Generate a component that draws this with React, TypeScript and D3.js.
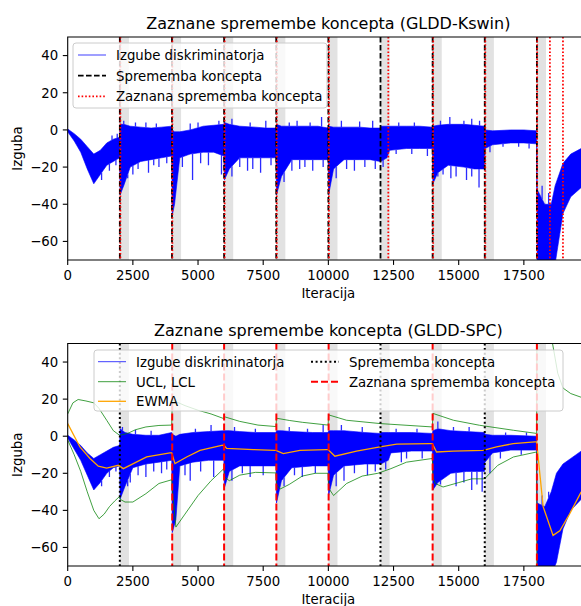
import React from 'react';
import * as d3 from 'd3';

// iteration ticks / loss ticks
const iterTicks = [0, 2500, 5000, 7500, 10000, 12500, 15000, 17500];
const lossTicks = [-60, -40, -20, 0, 20, 40];

// concept changes and detections
const conceptChanges = [2000, 4000, 6000, 8000, 10000, 12000, 14000, 16000, 18000];
const bandLength = 350;
const detectedKswin = [2020, 4015, 6020, 8020, 10020, 12300, 14020, 16020, 18010, 18500, 19000];
const detectedSpc = [4010, 6000, 8005, 10010, 14000, 18000];

// loss envelope (GLDD-Kswin run)
const lossIterKswin = [0, 250, 500, 750, 1000, 1250, 1500, 1750, 1990,
  2010, 2150, 2400, 2800, 3200, 3600, 3990,
  4010, 4100, 4300, 4700, 5200, 5600, 5990,
  6010, 6200, 6600, 7200, 7600, 7990,
  8010, 8200, 8600, 9200, 9600, 9990,
  10010, 10200, 10600, 11200, 11600, 11990,
  12010, 12250, 12350, 13000, 13500, 13990,
  14010, 14200, 14600, 15200, 15600, 15990,
  16010, 16300, 17000, 17500, 17990,
  18010, 18300, 18550, 18700, 19000, 19300, 19700, 20000];
const lossHighKswin = [0.5, -2, -5, -9, -13, -11, -7, -5, -4,
  3, 3, 2, 1.5, 1, 1.5, 2,
  0, -1, -1, 0, 2, 2.5, 3,
  4, 3, 2, 1.5, 1, 1,
  3, 2, 2, 2, 2, 1,
  2, 1.5, 1.5, 1.5, 1, 1,
  2, 2, 2, 2, 2, 1.5,
  2, 2.5, 3, 3, 2.5, 2,
  0, -0.5, 0, 0, -0.5,
  -32, -40, -40, -30, -18, -13, -10, -8];
const lossLowKswin = [-1, -6, -12, -21, -29, -24, -19, -17, -15,
  -35, -30, -20, -17, -16, -15, -14,
  -46, -40, -15, -13, -12, -12, -14,
  -27, -21, -15, -15, -15, -15,
  -35, -25, -16, -16, -16, -16,
  -35, -21, -16, -16, -16, -17,
  -17, -15, -11, -10, -10, -10,
  -29, -23, -19, -20, -21, -21,
  -10, -8, -7, -7, -7.5,
  -75, -75, -75, -72, -45, -36, -31, -29];
const spikesKswin = [[2500, -24], [3100, -23], [3500, -20], [4790, -27], [5900, -24], [6900, -22],
  [7400, -23], [8900, -21], [9400, -22], [11000, -22], [13800, -14], [14700, -26], [15300, -27],
  [15780, -31], [2300, -26], [2700, -21], [3300, -19], [3800, -18], [4400, -20], [5100, -18],
  [5400, -19], [6300, -25], [6600, -20], [7100, -21], [7800, -19], [8300, -28], [8600, -22],
  [9100, -20], [9800, -20], [10300, -26], [10700, -21], [11400, -20], [11800, -21], [12100, -20],
  [12600, -13], [13200, -13], [14200, -25], [14400, -24], [14900, -25], [15500, -25], [16200, -12],
  [16700, -9], [17300, -9], [17700, -10], [1300, -27], [1600, -22], [1850, -19],
  [2150, 5], [4700, 3.5], [7600, 5], [8500, 4], [9740, 7], [10500, 5], [14660, 7], [15200, 5],
  [2600, 4], [3000, 4], [3400, 3.5], [5000, 4], [5800, 5], [6300, 6], [7000, 4], [8800, 5],
  [9300, 4], [11200, 4.5], [11700, 5], [12700, 4], [13300, 4], [14300, 5], [15500, 6], [15800, 5],
  [1900, -2], [1700, -3], [18200, -30], [18450, -34]];

// loss envelope (GLDD-SPC run)
const lossIterSpc = [0, 250, 500, 750, 1000, 1250, 1500, 1750, 1990,
  2010, 2200, 2500, 3000, 3500, 3990,
  4010, 4150, 4300, 4800, 5400, 5990,
  6010, 6200, 6600, 7200, 7990,
  8010, 8200, 8600, 9400, 9990,
  10010, 10200, 10600, 11400, 11990,
  12010, 12300, 12400, 13200, 13990,
  14010, 14200, 14700, 15300, 15990,
  16010, 16300, 17000, 17990,
  18010, 18300, 18550, 18750, 19000, 19300, 19700, 20000];
const lossHighSpc = [0.5, -2, -5, -9, -12, -10, -8, -6, -5,
  4, 2, 1, 0.5, 0.5, 2,
  1, 0, 1, 2, 2.5, 3,
  3, 3, 2.5, 2, 2,
  3, 3, 2.5, 2, 2,
  3, 3, 3, 2, 1.5,
  2, 2, 2, 2, 1.5,
  3, 4, 3, 2.5, 2,
  1, 0.5, 0.5, 0,
  -36, -38, -30, -20, -15, -12, -8, -7];
const lossLowSpc = [-1, -7, -13, -21, -29, -25, -20, -17, -16,
  -34, -27, -17, -15, -14, -13,
  -52, -45, -16, -14, -13, -13,
  -28, -19, -16, -16, -16,
  -36, -24, -17, -16, -16,
  -32, -21, -16, -15, -15,
  -15, -13, -9, -8, -8,
  -29, -25, -20, -19, -19,
  -14, -9, -7.5, -7.5,
  -75, -75, -75, -68, -50, -40, -34, -31];
const spikesSpc = [[2400, -25], [3000, -22], [3600, -20], [4700, -24], [5600, -22], [7000, -22],
  [9000, -22], [10600, -24], [11500, -21], [12800, -14], [14900, -27], [15500, -29], [15900, -30],
  [2300, -27], [2700, -21], [3300, -19], [3800, -18], [4500, -21], [5100, -19], [6300, -24],
  [6700, -20], [7500, -21], [8300, -27], [8700, -21], [9500, -20], [10300, -27], [11000, -20],
  [11800, -19], [12200, -18], [13000, -12], [13600, -12], [14300, -26], [15200, -25], [15700, -26],
  [16200, -20], [16600, -12], [17400, -10], [1300, -27], [1600, -22], [1850, -19],
  [2100, 5], [5500, 6], [9800, 6], [10500, 6], [14200, 8], [2600, 3.5], [3200, 3], [4900, 4],
  [6400, 5], [7200, 4], [8500, 5], [9200, 4], [11300, 5], [12600, 4], [13400, 4], [14800, 5],
  [15400, 5], [16800, 2], [17600, 2], [18200, -32], [18450, -30]];

// control limits and EWMA (GLDD-SPC)
const uclIter = [0, 200, 400, 700, 1000, 1200, 1500, 1750, 1990, 2300, 2600, 3000, 3500, 3990,
  4010, 4500, 5000, 5500, 5990, 6010, 6600, 7300, 7990, 8010, 8500, 9000, 9990,
  10010, 10700, 12000, 13990, 14010, 14800, 15800, 17100, 17990,
  18010, 18300, 18600, 18800, 19000, 19300, 19700];
const uclValue = [12, 18, 19.8, 19, 18, 15, 8.5, 3, 0.5, 1.5, 3.5, 5, 5.8, 6,
  19.5, 16.5, 14, 12, 9.5, 10.5, 8, 6, 5.2, 9.7, 8.5, 7.5, 6,
  11.5, 8.6, 6.8, 5, 12.3, 8.6, 5.9, 3.2, 1.5,
  120, 90, 50, 34, 26, 23, 21];
const lclIter = [0, 250, 500, 750, 1000, 1200, 1400, 1600, 1800, 1990,
  2010, 2200, 2500, 3000, 3500, 3990,
  4010, 4150, 4500, 5000, 5500, 5990,
  6010, 6200, 6600, 7200, 7990,
  8010, 8150, 8500, 9000, 9500, 9990,
  10010, 10200, 10700, 11300, 11900, 12400, 13000, 13990,
  14010, 14100, 14400, 15000, 15500, 15990, 16500, 17100, 17990, 18010];
const lclValue = [-2, -10, -19, -30, -40, -44.5, -42, -38, -35, -32.5,
  -34, -35.5, -35.5, -31, -25.5, -23.5,
  -28, -49, -42, -32, -24, -17.5,
  -22, -24, -21, -19.5, -19.8,
  -26, -28.5, -26, -21.5, -20, -20,
  -28, -32, -25.5, -21.5, -20, -17.5, -14, -12,
  -22, -25.5, -27.4, -25, -23, -23, -15.7, -11.2, -8.5, -150];
const ewmaIter = [0, 470, 855, 1175, 1495, 1940, 2133, 2517, 3030, 3923, 3990, 4115, 4564, 5074,
  5906, 5990, 6098, 7118, 7950, 7990, 8270, 8910, 9930, 9990, 10250, 11080, 11980, 12620,
  13890, 13990, 14150, 14790, 15940, 16450, 17090, 17920, 17990, 18240, 18620, 18880,
  19260, 19700];
const ewmaValue = [6.8, -5.8, -12, -16.2, -17.2, -15.7, -17.5, -14.8, -11.2, -9, -9, -14.8, -11.2, -7.6,
  -4.9, -4.8, -6.6, -7.2, -7.6, -7.6, -9.4, -7.6, -7.2, -7.2, -10.8, -8, -5.8, -4.3,
  -4, -4, -8.5, -8, -7.6, -5.8, -4, -3.1, -3.1, -38, -53.5, -51,
  -41.8, -30];

const FONT = "'DejaVu Sans', sans-serif";
const left = 67.7;
const right = 589;
const x = d3.scaleLinear().domain([0, 19999]).range([left, right]);
const fmt = (v: number) => String(v).replace('-', '\u2212');

const lossArea = (iter: number[], high: number[], low: number[], y: d3.ScaleLinear<number, number>) =>
  d3.area<number>()
    .x((_, i) => x(iter[i]))
    .y0((_, i) => y(low[i]))
    .y1((_, i) => y(high[i]))(iter);

const curve = (iter: number[], vals: number[], y: d3.ScaleLinear<number, number>) =>
  d3.line<number>()
    .x((d) => x(d))
    .y((_, i) => y(vals[i]))(iter);

const Loss = ({ iter, high, low, spikes, y }) => {
  const highAt = d3.scaleLinear().domain(iter).range(high);
  const lowAt = d3.scaleLinear().domain(iter).range(low);
  return (
    <g>
      <path d={lossArea(iter, high, low, y)} fill="#0000ff" stroke="#0000ff" strokeWidth={0.6} />
      {spikes.map(([it, v], i) => (
        <line
          // eslint-disable-next-line react/no-array-index-key
          key={i}
          x1={x(it)}
          x2={x(it)}
          y1={y(v < highAt(it) ? lowAt(it) : highAt(it))}
          y2={y(v)}
          stroke="#2a2aff"
          strokeWidth={1.3}
        />
      ))}
    </g>
  );
};

const Frame = ({ y, top, bottom, title, titleY, labelY }) => (
  <g fontFamily={FONT} fill="#000">
    <text x={(left + right) / 2} y={titleY} fontSize={16} textAnchor="middle">{title}</text>
    <path d={`M${right},${top}H${left}V${bottom}H${right}`} fill="none" stroke="#000" strokeWidth={1.1} />
    {iterTicks.map((t) => (
      <g key={t}>
        <line x1={x(t)} x2={x(t)} y1={bottom} y2={bottom + 4.9} stroke="#000" strokeWidth={1.1} />
        <text x={x(t)} y={bottom + 20.3} fontSize={13.3} textAnchor="middle">{t}</text>
      </g>
    ))}
    {lossTicks.map((t) => (
      <g key={t}>
        <line x1={left - 4.9} x2={left} y1={y(t)} y2={y(t)} stroke="#000" strokeWidth={1.1} />
        <text x={left - 9.5} y={y(t) + 4.8} fontSize={13.3} textAnchor="end">{fmt(t)}</text>
      </g>
    ))}
    <text x={(left + right) / 2} y={labelY} fontSize={13.3} textAnchor="middle">Iteracija</text>
    <text
      transform={`translate(22,${(top + bottom) / 2}) rotate(-90)`}
      fontSize={13.3}
      textAnchor="middle"
    >
      Izguba
    </text>
  </g>
);

const Legend = ({ box, items }) => (
  <g fontFamily={FONT}>
    <rect x={box[0]} y={box[1]} width={box[2]} height={box[3]} rx={3}
      fill="#fff" fillOpacity={0.8} stroke="#cccccc" strokeWidth={1} />
    {items.map((it) => (
      <g key={it.label}>
        <line x1={it.x} x2={it.x + 28} y1={it.y} y2={it.y} stroke={it.color}
          strokeWidth={it.width} strokeDasharray={it.dash} opacity={it.opacity ?? 1} />
        <text x={it.x + 38} y={it.y + 4.8} fontSize={13.3} fill="#000">{it.label}</text>
      </g>
    ))}
  </g>
);

const VLines = ({ at, top, bottom, color, dash, width }) => (
  <g>
    {at.map((c) => (
      <line key={c} x1={x(c)} x2={x(c)} y1={top} y2={bottom} stroke={color}
        strokeWidth={width} strokeDasharray={dash} />
    ))}
  </g>
);

const Bands = ({ top, bottom }) => (
  <g>
    {conceptChanges.map((c) => (
      <rect key={c} x={x(c)} y={top} width={x(c + bandLength) - x(c)} height={bottom - top} fill="#e2e2e2" />
    ))}
  </g>
);

const App = () => {
  const t1 = 37;
  const b1 = 260;
  const t2 = 343.5;
  const b2 = 566;
  const y1 = d3.scaleLinear().domain([-70, 50]).range([b1, t1]);
  const y2 = d3.scaleLinear().domain([-70, 50]).range([b2, t2]);
  const undetectedSpc = conceptChanges.filter((c) => !detectedSpc.some((d) => Math.abs(d - c) < 100));

  return (
    <svg width={581} height={606} style={{ position: 'absolute', left: 0, top: 0, background: '#fff' }}>
      <defs>
        <clipPath id="clip1"><rect x={left} y={t1} width={right - left} height={b1 - t1} /></clipPath>
        <clipPath id="clip2"><rect x={left} y={t2} width={right - left} height={b2 - t2} /></clipPath>
      </defs>

      {/* GLDD-Kswin */}
      <g clipPath="url(#clip1)">
        <Bands top={t1} bottom={b1} />
        <Loss iter={lossIterKswin} high={lossHighKswin} low={lossLowKswin} spikes={spikesKswin} y={y1} />
        <VLines at={conceptChanges} top={t1} bottom={b1} color="#000" dash="5.6,2.4" width={1.8} />
        <VLines at={detectedKswin} top={t1} bottom={b1} color="#ff0000" dash="1.6,2" width={1.8} />
      </g>
      <Frame y={y1} top={t1} bottom={b1} title="Zaznane spremembe koncepta (GLDD-Kswin)" titleY={29} labelY={298} />
      <Legend
        box={[73, 43, 254, 65]}
        items={[
          { label: 'Izgube diskriminatorja', x: 78, y: 55, color: '#0000ff', width: 1, opacity: 0.75 },
          { label: 'Sprememba koncepta', x: 78, y: 75.7, color: '#000', width: 1.8, dash: '5.6,2.4' },
          { label: 'Zaznana sprememba koncepta', x: 78, y: 96.3, color: '#ff0000', width: 1.8, dash: '1.6,2' },
        ]}
      />

      {/* GLDD-SPC */}
      <g clipPath="url(#clip2)">
        <Bands top={t2} bottom={b2} />
        <Loss iter={lossIterSpc} high={lossHighSpc} low={lossLowSpc} spikes={spikesSpc} y={y2} />
        <path d={curve(uclIter, uclValue, y2)} fill="none" stroke="#008000" strokeWidth={1} opacity={0.75} />
        <path d={curve(lclIter, lclValue, y2)} fill="none" stroke="#008000" strokeWidth={1} opacity={0.75} />
        <path d={curve(ewmaIter, ewmaValue, y2)} fill="none" stroke="#ffa500" strokeWidth={1.3} />
        <VLines at={undetectedSpc} top={t2} bottom={b2} color="#000" dash="2,2.6" width={2} />
        <VLines at={detectedSpc} top={t2} bottom={b2} color="#ff0000" dash="7,3" width={2} />
      </g>
      <Frame y={y2} top={t2} bottom={b2} title="Zaznane spremembe koncepta (GLDD-SPC)" titleY={336} labelY={603.5} />
      <Legend
        box={[94, 350, 469, 61]}
        items={[
          { label: 'Izgube diskriminatorja', x: 98, y: 361.7, color: '#0000ff', width: 1, opacity: 0.75 },
          { label: 'UCL, LCL', x: 98, y: 381.7, color: '#008000', width: 1, opacity: 0.75 },
          { label: 'EWMA', x: 98, y: 401.3, color: '#ffa500', width: 1.3 },
          { label: 'Sprememba koncepta', x: 311, y: 361.7, color: '#000', width: 2, dash: '2,2.6' },
          { label: 'Zaznana sprememba koncepta', x: 311, y: 381.7, color: '#ff0000', width: 2, dash: '7,3' },
        ]}
      />
    </svg>
  );
};

export default App;
